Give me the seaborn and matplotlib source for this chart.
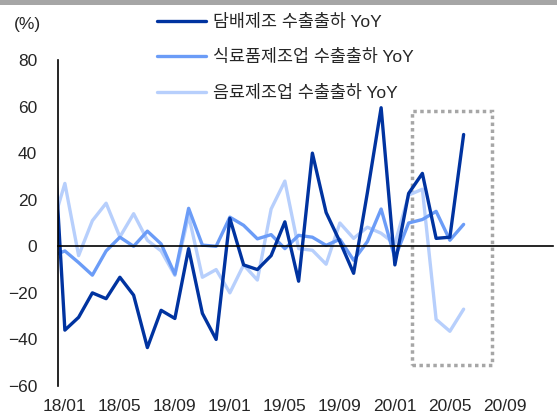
import numpy as np
import pandas as pd
import matplotlib.pyplot as plt
import seaborn as sns
from matplotlib.patches import Rectangle

# monthly YoY (%), 17/12 is left of the axis and gets clipped
months = ['17/12',
          '18/01', '18/02', '18/03', '18/04', '18/05', '18/06',
          '18/07', '18/08', '18/09', '18/10', '18/11', '18/12',
          '19/01', '19/02', '19/03', '19/04', '19/05', '19/06',
          '19/07', '19/08', '19/09', '19/10', '19/11', '19/12',
          '20/01', '20/02', '20/03', '20/04', '20/05', '20/06']
tobacco = [66, -36, -30.5, -20, -22.5, -13.3, -21, -43.5, -27.5, -31, -1, -28.8, -40,
           12, -8, -10, -4, 10.5, -15, 40, 14.5, 2, -11.6, 23, 59.5,
           -8, 22.7, 31.3, 3.4, 3.9, 48]
food = [-4.3, -2, -7, -12.4, -2, 3.9, 0, 6.5, 1, -12, 16.3, 0.5, 0,
        12.5, 9, 3.2, 5, -1, 4.7, 3.9, 0.4, 3, -6, 2, 16,
        -5, 10, 11.5, 15, 2.6, 9.4]
beverage = [7, 27, -4, 11, 18.5, 4, 14, 2.6, -2, -12.5, 13.3, -13.3, -10,
            -20, -8, -14.5, 16, 28, -1, -1.7, -7.7, 10, 3.4, 8.2, 5.6,
            1, 22, 24.5, -31.4, -36.5, -27]

names = ['담배제조 수출출하 YoY', '식료품제조업 수출출하 YoY', '음료제조업 수출출하 YoY']
colors = ['#0033a0', '#6b9cf7', '#b7cffc']
tick_labels = ['18/01', '18/05', '18/09', '19/01', '19/05', '19/09', '20/01', '20/05', '20/09']
n_slots = 36  # axis runs 18/01 .. 20/12

pos = np.arange(len(months)) - 1
df = pd.DataFrame({'pos': pos, names[0]: tobacco, names[1]: food, names[2]: beverage})
df = df.melt(id_vars='pos', var_name='series', value_name='value')

sns.set_style('white')
plt.rcParams['font.family'] = ['Liberation Sans', 'Noto Sans CJK KR', 'DejaVu Sans']
plt.rcParams['axes.unicode_minus'] = True

fig = plt.figure(figsize=(5.57, 4.19), dpi=100)
ax = fig.add_axes([58/557, 1-386/419, 495/557, 326/419])

# light first so the dark line ends up on top
for name, c in reversed(list(zip(names, colors))):
    sns.lineplot(data=df[df['series'] == name], x='pos', y='value', color=c,
                 lw=2.4, label=name, ax=ax)

ax.set_xlim(-0.5, n_slots - 0.5)
ax.set_ylim(-60, 80)
ax.set_yticks(range(-60, 81, 20))
ax.set_xlabel('')
ax.set_ylabel('')

for s in ['top', 'right']:
    ax.spines[s].set_visible(False)
ax.spines['left'].set_color('black')
ax.spines['left'].set_linewidth(1.2)
ax.spines['bottom'].set_position(('data', 0))
ax.spines['bottom'].set_color('black')
ax.spines['bottom'].set_linewidth(1.2)

ax.set_xticks(np.arange(3.5, n_slots, 4))
ax.set_xticklabels([])
ax.tick_params(axis='x', direction='out', length=4, width=1, color='#808080')
ax.tick_params(axis='y', direction='out', length=4, width=1, color='#808080',
               labelsize=12.5, pad=11)

tick_pos = [4 * i for i in range(len(tick_labels))]
for p, t in zip(tick_pos, tick_labels):
    ax.text(p, -0.064, t, transform=ax.get_xaxis_transform(), ha='center', va='center',
            fontsize=12.5)

# dotted box around 20/02 - 20/06 (in month-slot units)
box_x0, box_x1 = 25.25, 31.05
box_y0, box_y1 = -51, 58
ax.add_patch(Rectangle((box_x0, box_y0), box_x1 - box_x0, box_y1 - box_y0, fill=False,
                       ec='#a6a6a6', lw=2.5, ls=(0, (1, 1)), clip_on=False))

handles, labels = ax.get_legend_handles_labels()
order = [labels.index(n) for n in names]
ax.legend([handles[i] for i in order], names, loc='upper left',
          bbox_to_anchor=(157/557, 1-14/419), bbox_transform=fig.transFigure,
          frameon=False, fontsize=12.5, handlelength=2.8, handletextpad=0.45,
          labelspacing=1.12, borderpad=0, borderaxespad=0)

fig.text(27/557, 1-24/419, '(%)', ha='center', va='center', fontsize=12.5)
fig.add_artist(Rectangle((0, 1-5/419), 1, 5/419, transform=fig.transFigure,
                         color='#a6a6a6', lw=0))

fig.savefig('out.png', dpi=100)
